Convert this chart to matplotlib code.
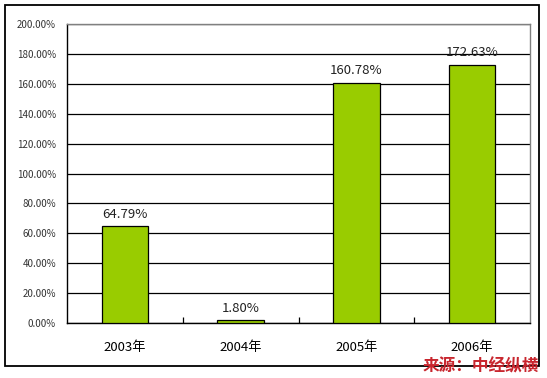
import matplotlib
matplotlib.use("Agg")
import matplotlib.pyplot as plt
from matplotlib.patches import Rectangle
from matplotlib.ticker import MultipleLocator, FuncFormatter

plt.rcParams['font.family'] = ['Noto Sans CJK SC', 'DejaVu Sans']

categories = ["2003年", "2004年", "2005年", "2006年"]
values = [64.79, 1.80, 160.78, 172.63]
value_labels = ["64.79%", "1.80%", "160.78%", "172.63%"]
source_text = "来源：中经纵横"

W, H = 547, 378
fig = plt.figure(figsize=(W / 100, H / 100), dpi=100)
fig.patch.set_facecolor("white")

# outer border
fig.patches.append(Rectangle((5 / W, 1 - 366 / H), 534 / W, 361 / H,
                             transform=fig.transFigure, fill=False,
                             edgecolor="black", linewidth=1.3, zorder=0))

ax = fig.add_axes([67 / W, 1 - 323 / H, 463 / W, 299 / H])
x = list(range(len(categories)))
bars = ax.bar(x, values, width=0.4, color="#99CC00", edgecolor="black",
              linewidth=0.9, zorder=3)

ax.set_xlim(-0.5, len(categories) - 0.5)
ax.set_ylim(0, 200)
ax.yaxis.set_major_locator(MultipleLocator(20))
ax.yaxis.set_major_formatter(FuncFormatter(lambda v, p: f"{v:.2f}%"))
ax.grid(axis="y", color="black", linewidth=0.9, zorder=0)
ax.set_axisbelow(True)

ax.set_xticks(x)
ax.set_xticklabels(categories, fontsize=9.5)
ax.tick_params(axis="x", length=0, pad=13)
ax.set_xticks([i + 0.5 for i in x[:-1]], minor=True)
ax.tick_params(axis="x", which="minor", direction="in", length=4, width=0.9)
ax.tick_params(axis="y", length=0, labelsize=7, labelcolor="#333333", pad=8)

for s in ["left", "bottom"]:
    ax.spines[s].set_color("black")
    ax.spines[s].set_linewidth(1.0)
for s in ["top", "right"]:
    ax.spines[s].set_color("#808080")
    ax.spines[s].set_linewidth(1.0)

for xi, v, lab in zip(x, values, value_labels):
    ax.annotate(lab, (xi, v), xytext=(0, 4), textcoords="offset points",
                ha="center", va="bottom", fontsize=9.5, color="#222222")

fig.text(539 / W, 1 - 366 / H, source_text, ha="right", va="center",
         fontsize=12, fontweight="bold", fontstyle="italic",
         color="#C8262E")

fig.savefig("out.png", dpi=100)
